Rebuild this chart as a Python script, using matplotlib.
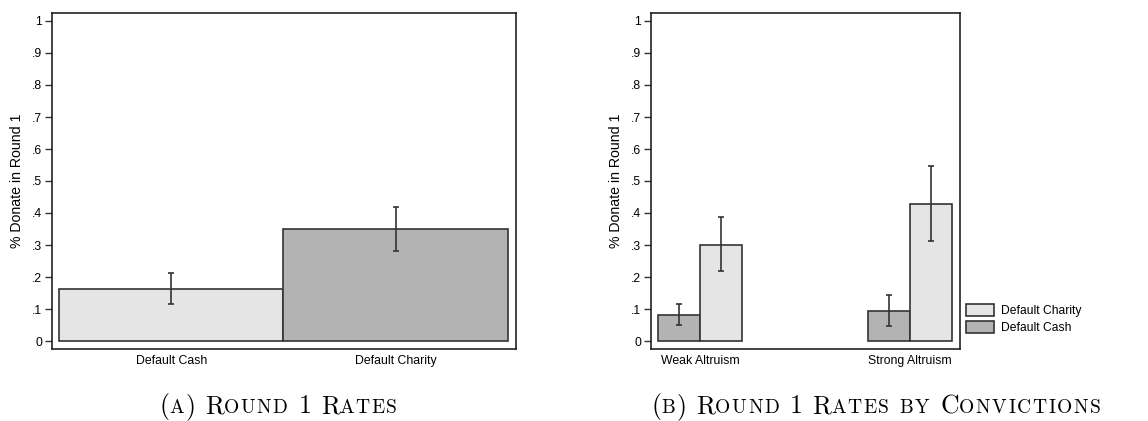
import matplotlib
matplotlib.use("Agg")
import matplotlib.pyplot as plt
from matplotlib.patches import Patch
import numpy as np

# ---- data ----
cats_a = ["Default Cash", "Default Charity"]
vals_a = [0.163, 0.350]
lo_a = [0.115, 0.282]
hi_a = [0.213, 0.418]

groups_b = ["Weak Altruism", "Strong Altruism"]
cash_b = [0.082, 0.094]
cash_lo_b = [0.050, 0.047]
cash_hi_b = [0.115, 0.144]
charity_b = [0.301, 0.429]
charity_lo_b = [0.219, 0.313]
charity_hi_b = [0.387, 0.548]

yticks = [0, 0.1, 0.2, 0.3, 0.4, 0.5, 0.6, 0.7, 0.8, 0.9, 1.0]
ytick_labels = ["0", ".1", ".2", ".3", ".4", ".5", ".6", ".7", ".8", ".9", "1"]

LIGHT = "#e5e5e5"
DARK = "#b3b3b3"
EDGE = "#333333"
ERR = "#333333"

plt.rcParams["font.family"] = ["Liberation Sans", "DejaVu Sans"]
FS_TICK = 8.8
FS_YT = 8.7
FS_LAB = 10.2
FS_LEG = 8.7

W, H, DPI = 1148, 421, 100
fig = plt.figure(figsize=(W / DPI, H / DPI), dpi=DPI)


def style_axes(ax):
    for s in ax.spines.values():
        s.set_linewidth(1.2)
        s.set_color("#222222")
    ax.set_ylim(-0.025, 1.025)
    ax.set_yticks(yticks)
    ax.set_yticklabels(ytick_labels, fontsize=FS_YT)
    ax.tick_params(axis="y", direction="out", length=5, width=1, color="#333333", pad=2)
    ax.tick_params(axis="x", length=0, pad=4, labelsize=FS_TICK)
    ax.set_ylabel("% Donate in Round 1", fontsize=FS_LAB, labelpad=6)


# ---- panel A ----
axA = fig.add_axes([52 / W, 1 - 349 / H, (516 - 52) / W, (349 - 13) / H])
xa = np.arange(len(cats_a))
axA.bar(xa, vals_a, width=1.0, color=[LIGHT, DARK], edgecolor=EDGE, linewidth=1.2)
errA = [np.array(vals_a) - np.array(lo_a), np.array(hi_a) - np.array(vals_a)]
axA.errorbar(xa, vals_a, yerr=errA, fmt="none", ecolor=ERR, elinewidth=1.2,
             capsize=2.5, capthick=1.2)
axA.set_xlim(-0.531, 1.536)
axA.set_xticks(xa)
axA.set_xticklabels(cats_a)
style_axes(axA)

# ---- panel B ----
axB = fig.add_axes([651 / W, 1 - 349 / H, (960 - 651) / W, (349 - 13) / H])
xb = np.arange(len(groups_b))
bw = 0.2
axB.bar(xb - bw / 2, cash_b, width=bw, color=DARK, edgecolor=EDGE, linewidth=1.2)
axB.bar(xb + bw / 2, charity_b, width=bw, color=LIGHT, edgecolor=EDGE, linewidth=1.2)
axB.errorbar(xb - bw / 2, cash_b,
             yerr=[np.array(cash_b) - np.array(cash_lo_b), np.array(cash_hi_b) - np.array(cash_b)],
             fmt="none", ecolor=ERR, elinewidth=1.2, capsize=2.5, capthick=1.2)
axB.errorbar(xb + bw / 2, charity_b,
             yerr=[np.array(charity_b) - np.array(charity_lo_b), np.array(charity_hi_b) - np.array(charity_b)],
             fmt="none", ecolor=ERR, elinewidth=1.2, capsize=2.5, capthick=1.2)
axB.set_xlim(-0.233, 1.238)
axB.set_xticks(xb)
axB.set_xticklabels(groups_b)
style_axes(axB)

handles = [Patch(facecolor=LIGHT, edgecolor=EDGE, linewidth=1.2, label="Default Charity"),
           Patch(facecolor=DARK, edgecolor=EDGE, linewidth=1.2, label="Default Cash")]
fig.legend(handles=handles, loc="upper left", bbox_to_anchor=(966 / W, 1 - 304 / H),
           frameon=False, fontsize=FS_LEG, handlelength=2.3, handleheight=1.15,
           handletextpad=0.6, labelspacing=0.35, borderpad=0, borderaxespad=0)

# ---- small-caps captions ----
renderer = fig.canvas.get_renderer()
BIG, SMALL = 18.5, 14.0
TRACK = 1.6  # px extra spacing between small-cap letters
CAPFONT = "cmr10"


def smallcaps(xc_px, base_px, parts):
    items = []
    for t, s in parts:
        if t == " ":
            items.append((None, s, s * DPI / 72 * 0.36))
            continue
        letters = list(t) if s == SMALL else [t]
        for ch in letters:
            tt = fig.text(0, 0, ch, fontsize=s, family=CAPFONT)
            w = tt.get_window_extent(renderer).width
            tt.remove()
            if s == SMALL:
                w += TRACK
            items.append((ch, s, w))
    total = sum(w for _, _, w in items)
    x = xc_px - total / 2
    for ch, s, w in items:
        if ch is not None:
            fig.text(x / W, 1 - base_px / H, ch, fontsize=s, family=CAPFONT,
                     va="baseline", ha="left")
        x += w


capA = [("(", BIG), ("A", SMALL), (")", BIG), (" ", BIG), ("R", BIG), ("OUND", SMALL),
        (" ", BIG), ("1", BIG), (" ", BIG), ("R", BIG), ("ATES", SMALL)]
capB = [("(", BIG), ("B", SMALL), (")", BIG), (" ", BIG), ("R", BIG), ("OUND", SMALL),
        (" ", BIG), ("1", BIG), (" ", BIG), ("R", BIG), ("ATES", SMALL), (" ", BIG),
        ("BY", SMALL), (" ", BIG), ("C", BIG), ("ONVICTIONS", SMALL)]
smallcaps(279, 413, capA)
smallcaps(877, 413, capB)

fig.savefig("out.png", dpi=DPI)
